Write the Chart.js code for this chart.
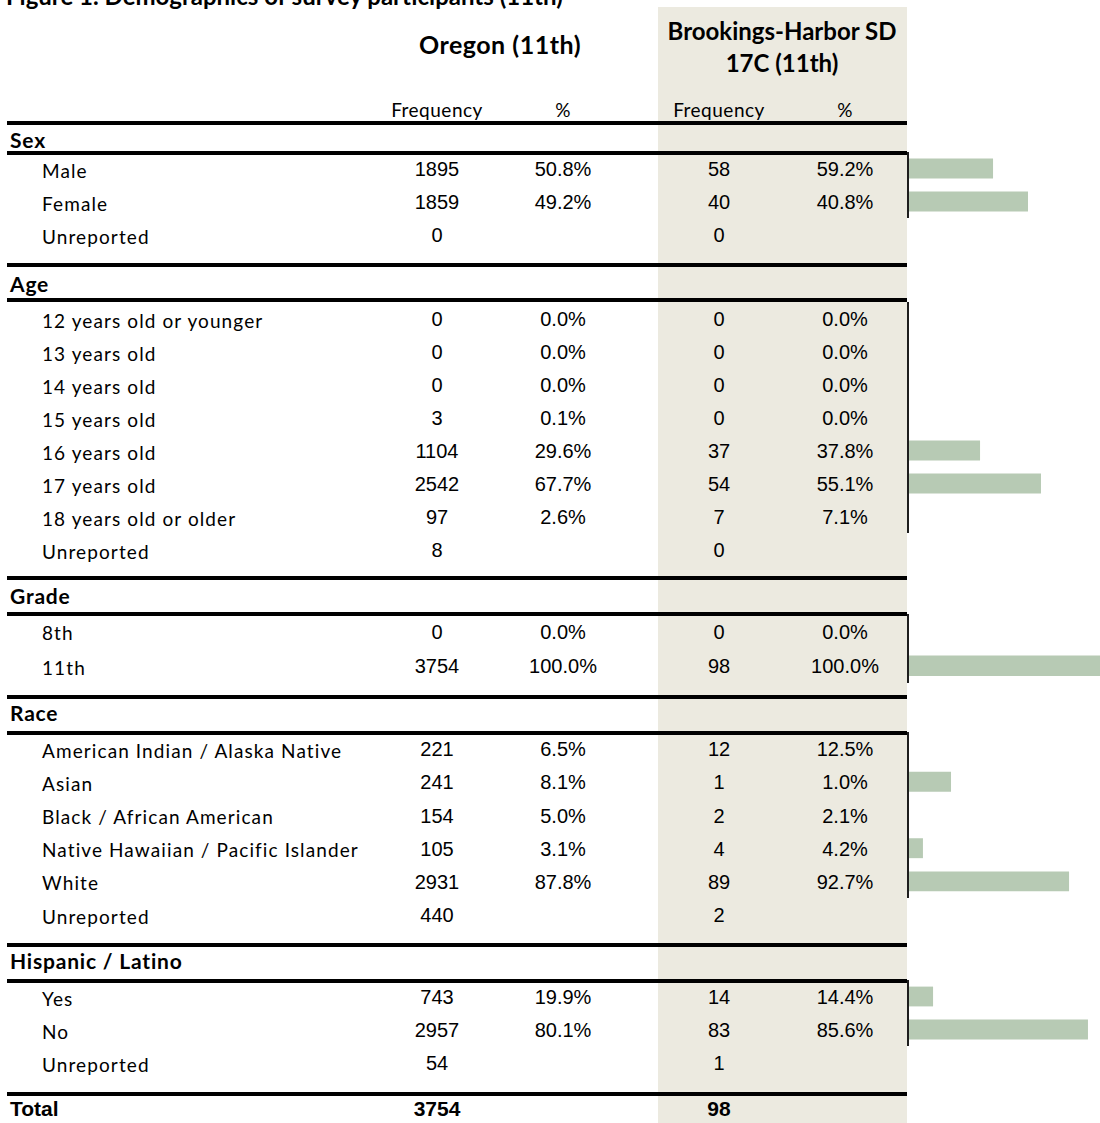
<!DOCTYPE html>
<html><head><meta charset="utf-8">
<script src="https://cdn.jsdelivr.net/npm/chart.js@4.4.1/dist/chart.umd.min.js"></script>
<style>
html,body{margin:0;padding:0;background:#fff;}
#page{position:relative;width:1100px;height:1123px;overflow:hidden;background:#fff;}
.t{position:absolute;white-space:nowrap;color:#000;}
.lab{font-family:Lato,'Open Sans',sans-serif;font-size:19px;line-height:19px;letter-spacing:1.1px;}
.sub{font-family:Lato,'Open Sans',sans-serif;font-size:19px;line-height:19px;letter-spacing:0.5px;}
.sec{font-family:Lato,'Open Sans',sans-serif;font-size:21px;line-height:21px;font-weight:bold;letter-spacing:0.8px;}
.num{font-family:'Liberation Sans',Arial,sans-serif;font-size:20px;line-height:20px;}
.tot{font-family:'Liberation Sans',Arial,sans-serif;font-size:21px;line-height:21px;font-weight:bold;}
.hdr{font-family:Lato,'Open Sans',sans-serif;font-size:24px;line-height:24px;font-weight:bold;}
.hdr2{font-family:Lato,'Open Sans',sans-serif;font-size:25px;line-height:25px;font-weight:bold;letter-spacing:0.5px;}
.ttl{font-family:Lato,'Open Sans',sans-serif;font-size:24px;line-height:24px;font-weight:bold;}
.rule{position:absolute;background:#000;}
.shade{position:absolute;background:#ECEAE0;}
.axis{position:absolute;background:#1e1e1e;}
.cv{position:absolute;}
</style></head><body><div id="page"></div>
<script>
// ---------- data ----------
const figureTitle = 'Figure 1. Demographics of survey participants (11th)';
const columnTitles = ['Oregon (11th)', 'Brookings-Harbor SD', '17C (11th)'];
const subTitles = ['Frequency', '%'];
const sectionTitles = ['Sex', 'Age', 'Grade', 'Race', 'Hispanic / Latino'];

const sexRows = ['Male', 'Female', 'Unreported'];
const sexOrFreq = [1895, 1859, 0];
const sexOrPct = [50.8, 49.2, null];
const sexBhFreq = [58, 40, 0];
const sexBhPct = [59.2, 40.8, null];
const sexBars = [44.0, 62.3];

const ageRows = ['12 years old or younger', '13 years old', '14 years old', '15 years old', '16 years old', '17 years old', '18 years old or older', 'Unreported'];
const ageOrFreq = [0, 0, 0, 3, 1104, 2542, 97, 8];
const ageOrPct = [0.0, 0.0, 0.0, 0.1, 29.6, 67.7, 2.6, null];
const ageBhFreq = [0, 0, 0, 0, 37, 54, 7, 0];
const ageBhPct = [0.0, 0.0, 0.0, 0.0, 37.8, 55.1, 7.1, null];
const ageBars = [0, 0, 0, 0, 37.2, 69.1, 0];

const gradeRows = ['8th', '11th'];
const gradeOrFreq = [0, 3754];
const gradeOrPct = [0.0, 100.0];
const gradeBhFreq = [0, 98];
const gradeBhPct = [0.0, 100.0];
const gradeBars = [0, 100];

const raceRows = ['American Indian / Alaska Native', 'Asian', 'Black / African American', 'Native Hawaiian / Pacific Islander', 'White', 'Unreported'];
const raceOrFreq = [221, 241, 154, 105, 2931, 440];
const raceOrPct = [6.5, 8.1, 5.0, 3.1, 87.8, null];
const raceBhFreq = [12, 1, 2, 4, 89, 2];
const raceBhPct = [12.5, 1.0, 2.1, 4.2, 92.7, null];
const raceBars = [0, 22.0, 0, 7.3, 83.8];

const hispRows = ['Yes', 'No', 'Unreported'];
const hispOrFreq = [743, 2957, 54];
const hispOrPct = [19.9, 80.1, null];
const hispBhFreq = [14, 83, 1];
const hispBhPct = [14.4, 85.6, null];
const hispBars = [12.6, 93.7];

const totalLabel = 'Total';
const totalOr = 3754;
const totalBh = 98;

// ---------- layout ----------
const page = document.getElementById('page');
const SIZES = {lab:19, sub:19, sec:21, num:20, tot:21, hdr:24, hdr2:25, ttl:24};
function addText(str, x, cy, cls, align) {
  const d = document.createElement('div');
  d.className = 't ' + cls;
  d.textContent = str;
  const fs = SIZES[cls];
  d.style.top = (cy - fs / 2) + 'px';
  if (align === 'left') { d.style.left = x + 'px'; }
  else { d.style.left = (x - 150) + 'px'; d.style.width = '300px'; d.style.textAlign = 'center'; }
  page.appendChild(d);
}
function addBox(cls, l, t, w, h) {
  const d = document.createElement('div');
  d.className = cls;
  d.style.left = l + 'px'; d.style.top = t + 'px';
  d.style.width = w + 'px'; d.style.height = h + 'px';
  page.appendChild(d);
  return d;
}
const fmtPct = v => v === null ? '' : v.toFixed(1) + '%';

const COL = {orF:437, orP:563, bhF:719, bhP:845};
const LINE_L = 7, LINE_R = 907, LINE_H = 4;
const BAR_LEFT = 909, BAR_W = 191, AXIS_X = 907;

addBox('shade', 658, 7, 249, 1116);

addText(figureTitle, 6, -4, 'ttl', 'left');
addText(columnTitles[0], 500, 44, 'hdr2');
addText(columnTitles[1], 782, 31, 'hdr');
addText(columnTitles[2], 782, 63, 'hdr');
addText(subTitles[0], COL.orF, 109, 'sub');
addText(subTitles[1], COL.orP, 109, 'sub');
addText(subTitles[0], COL.bhF, 109, 'sub');
addText(subTitles[1], COL.bhP, 109, 'sub');

const sections = [
  {rows:sexRows, of:sexOrFreq, op:sexOrPct, bf:sexBhFreq, bp:sexBhPct, bars:sexBars, top:121, head:139, sub:151, axisTop:152, rowH:33},
  {rows:ageRows, of:ageOrFreq, op:ageOrPct, bf:ageBhFreq, bp:ageBhPct, bars:ageBars, top:263, head:283, sub:298, axisTop:302, rowH:33},
  {rows:gradeRows, of:gradeOrFreq, op:gradeOrPct, bf:gradeBhFreq, bp:gradeBhPct, bars:gradeBars, top:576, head:595, sub:612, axisTop:614, rowH:34.5},
  {rows:raceRows, of:raceOrFreq, op:raceOrPct, bf:raceBhFreq, bp:raceBhPct, bars:raceBars, top:695, head:712, sub:731, axisTop:732, rowH:33.2},
  {rows:hispRows, of:hispOrFreq, op:hispOrPct, bf:hispBhFreq, bp:hispBhPct, bars:hispBars, top:943, head:960, sub:979, axisTop:980, rowH:33}
];
const BOTTOM_LINE = 1092;

sections.forEach((s, si) => {
  addBox('rule', LINE_L, s.top, LINE_R - LINE_L, LINE_H);
  addBox('rule', LINE_L, s.sub, LINE_R - LINE_L, LINE_H);
  addText(sectionTitles[si], 10, s.head, 'sec', 'left');
  s.rows.forEach((r, i) => {
    const cy = s.axisTop + (i + 0.5) * s.rowH + 1.5;
    addText(r, 42, cy, 'lab', 'left');
    addText(String(s.of[i]), COL.orF, cy - 1, 'num');
    addText(fmtPct(s.op[i]), COL.orP, cy - 1, 'num');
    addText(String(s.bf[i]), COL.bhF, cy - 1, 'num');
    addText(fmtPct(s.bp[i]), COL.bhP, cy - 1, 'num');
  });
  const n = s.bars.length;
  const h = Math.round(n * s.rowH);
  addBox('axis', AXIS_X, s.axisTop, 2, h);
  const cv = document.createElement('canvas');
  cv.className = 'cv';
  cv.width = BAR_W; cv.height = h;
  cv.style.left = BAR_LEFT + 'px'; cv.style.top = s.axisTop + 'px';
  cv.style.width = BAR_W + 'px'; cv.style.height = h + 'px';
  page.appendChild(cv);
  new Chart(cv, {
    type: 'bar',
    data: {
      labels: s.rows.slice(0, n),
      datasets: [{
        data: s.bars,
        backgroundColor: '#B7CAB4',
        borderWidth: 0,
        barPercentage: 0.6,
        categoryPercentage: 1.0
      }]
    },
    options: {
      indexAxis: 'y',
      responsive: false,
      animation: false,
      devicePixelRatio: 1,
      layout: {padding: 0},
      plugins: {legend: {display: false}, tooltip: {enabled: false}, title: {display: false}},
      scales: {
        x: {display: false, min: 0, max: 100},
        y: {display: false}
      }
    }
  });
});

addBox('rule', LINE_L, BOTTOM_LINE, LINE_R - LINE_L, LINE_H);
addText(totalLabel, 10, 1108, 'tot', 'left');
addText(String(totalOr), COL.orF, 1108, 'tot');
addText(String(totalBh), COL.bhF, 1108, 'tot');
</script>
</body></html>
